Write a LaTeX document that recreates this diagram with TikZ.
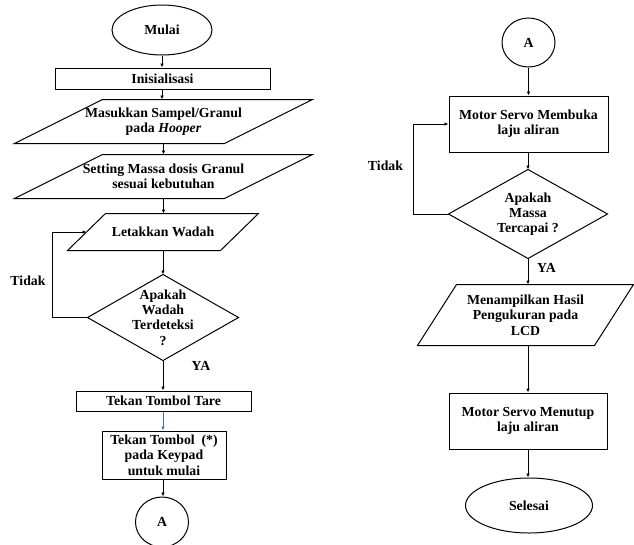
\documentclass[tikz,border=0pt]{standalone}
\usepackage{fontspec}
\setmainfont{Liberation Serif}
\usetikzlibrary{shapes.geometric,arrows.meta,calc}
\definecolor{linkblue}{HTML}{3A78B0}
\newcommand\paraoutline[2]{\draw ([xshift=#2]#1.north west) -- (#1.north east) -- ([xshift=-#2]#1.south east) -- (#1.south west) -- cycle;}
\newcommand\diamoutline[1]{\draw (#1.north) -- (#1.east) -- (#1.south) -- (#1.west) -- cycle;}
\begin{document}
\begin{tikzpicture}[x=1pt,y=-1pt, line width=1pt,
  every node/.style={font=\fontsize{13.8}{15.3}\selectfont\bfseries, align=center, inner sep=0pt},
  termbox/.style={draw, ellipse},
  procbox/.style={draw, rectangle},
  iobox/.style={rectangle},
  decbox/.style={rectangle},
  arr/.style={-{Latex[length=4pt,width=3.5pt]}}]
\useasboundingbox (0,0) rectangle (634,544);
\fill[white] (0,0) rectangle (634,544);

% left column
\node[termbox, minimum width=100pt, minimum height=50pt] (start) at (162,30) {Mulai};
\node[procbox, minimum width=215pt, minimum height=21pt] (init) at (162.5,78.5) {Inisialisasi};
\node[iobox, minimum width=297pt, minimum height=43pt] (in1) at (163.5,121.5) {Masukkan Sampel/Granul\\pada \textit{Hooper}};
\node[iobox, minimum width=297pt, minimum height=43pt] (in2) at (163.5,176.5) {Setting Massa dosis Granul\\sesuai kebutuhan};
\node[iobox, minimum width=190pt, minimum height=36pt] (let) at (163,232) {Letakkan Wadah};
\node[decbox, minimum width=150pt, minimum height=85pt] (dec1) at (163,317.5) {Apakah\\Wadah\\Terdeteksi\\?};
\node[procbox, minimum width=175pt, minimum height=20pt] (tare) at (163.5,401) {Tekan Tombol Tare};
\node[procbox, minimum width=124pt, minimum height=48pt] (key) at (164,455) {Tekan Tombol~~(*)\\pada Keypad\\untuk mulai};
\node[termbox, minimum width=53pt, minimum height=50pt] (a1) at (162,522) {A};

\paraoutline{in1}{88pt}
\paraoutline{in2}{88pt}
\paraoutline{let}{38pt}
\diamoutline{dec1}

\node (tidak1) at (28,281) {Tidak};
\node (ya1) at (201,366) {YA};

\draw[arr] (start.south) -- (start.south |- init.north);
\draw[arr] (start.south |- init.south) -- (start.south |- in1.north);
\draw[arr] (in1.south) -- (in1.south |- in2.north);
\draw[arr] (in2.south) -- (in2.south |- let.north);
\draw[arr] (let.south) -- (dec1.north);
\draw[arr] (dec1.south) -- (dec1.south |- tare.north);
\draw[arr, linkblue] (dec1.south |- tare.south) -- (dec1.south |- key.north);
\draw[arr] (dec1.south |- key.south) -- (dec1.south |- a1.north);
\coordinate (letmid) at ($([xshift=38pt]let.north west)!0.5!(let.south west)$);
\draw[arr] (dec1.west) -- ++(-35pt,0) |- (letmid);

% right column
\node[termbox, minimum width=53pt, minimum height=49pt] (a2) at (528.5,42.5) {A};
\node[procbox, minimum width=159pt, minimum height=56pt] (open) at (528.5,124) {Motor Servo Membuka\\laju aliran};
\node[decbox, minimum width=158pt, minimum height=88pt] (dec2) at (528,214) {Apakah\\Massa\\Tercapai ?};
\node[iobox, minimum width=215pt, minimum height=60pt] (disp) at (525.5,315) {Menampilkan Hasil\\Pengukuran pada\\LCD};
\node[procbox, minimum width=158pt, minimum height=56pt] (close) at (528,421) {Motor Servo Menutup\\laju aliran};
\node[termbox, minimum width=127pt, minimum height=55pt] (end) at (529,505.5) {Selesai};

\diamoutline{dec2}
\paraoutline{disp}{39pt}

\node (tidak2) at (385.5,166) {Tidak};
\node (ya2) at (546.5,268) {YA};

\draw[arr] (a2.south) -- (a2.south |- open.north);
\draw[arr] (dec2.north |- open.south) -- (dec2.north);
\draw[arr] (dec2.south) -- (dec2.south |- disp.north);
\draw[arr] (dec2.south |- disp.south) -- (dec2.south |- close.north);
\draw[arr] (dec2.south |- close.south) -- (dec2.south |- end.north);
\draw[arr] (dec2.west) -- ++(-35pt,0) |- (open.west);
\end{tikzpicture}
\end{document}
